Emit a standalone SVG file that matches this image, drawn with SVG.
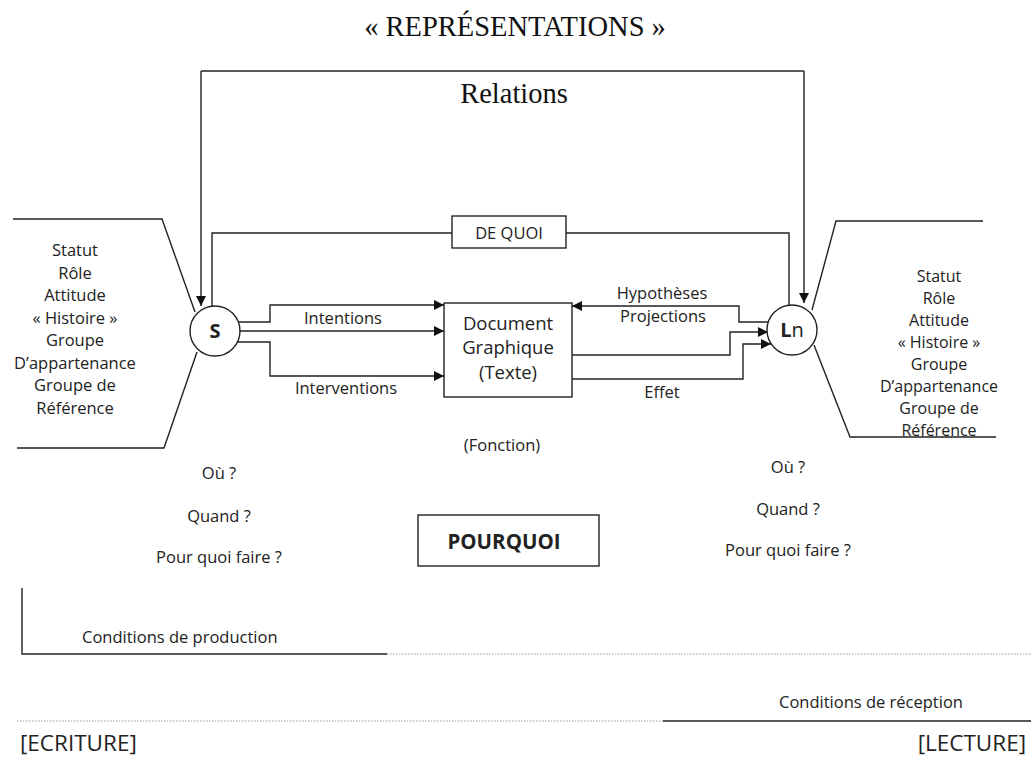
<svg xmlns="http://www.w3.org/2000/svg" width="1031" height="758" viewBox="0 0 1031 758">
<style>
  .ln{fill:none;stroke:#222;stroke-width:1.4}
  .arr{fill:none;stroke:#222;stroke-width:1.4;marker-end:url(#ah)}
  .dot{fill:none;stroke:#9a9a9a;stroke-width:1.2;stroke-dasharray:1.5 1.5}
  .box{fill:#fff;stroke:#222;stroke-width:1.4}
  .t{font-family:"Open Sans","DejaVu Sans",sans-serif;font-size:16.5px;fill:#222;text-anchor:middle}
  .ts{font-family:"Liberation Serif","Times New Roman",serif;font-size:28.5px;fill:#111;text-anchor:middle}
  .doc{font-size:18.5px}
  .big{font-size:22.5px;text-anchor:start}
  .rp{font-size:16px}
</style>
<defs>
  <marker id="ah" viewBox="0 0 10 10" refX="10" refY="5" markerWidth="10" markerHeight="10" markerUnits="userSpaceOnUse" orient="auto">
    <path d="M0,0 L10,5 L0,10 Z" fill="#111"/>
  </marker>
</defs>

<text class="ts" x="515" y="36">« REPRÉSENTATIONS »</text>
<text class="ts" x="514" y="103">Relations</text>

<g id="connectors">
  <path class="ln" d="M201,71 L804,71"/>
  <path class="arr" d="M201,71 L201,306"/>
  <path class="arr" d="M804,71 L804,303"/>
  <path class="ln" d="M212,306 L212,233 L452,233"/>
  <path class="ln" d="M566,233 L789,233 L789,305"/>
  <path class="arr" d="M238,322 L270,322 L270,305 L444,305"/>
  <path class="arr" d="M240,331 L444,331"/>
  <path class="arr" d="M238,342 L270,342 L270,376 L444,376"/>
  <path class="arr" d="M768,322 L739,322 L739,306 L572,306"/>
  <path class="arr" d="M572,355 L730,355 L730,332 L768,332"/>
  <path class="arr" d="M572,379 L743,379 L743,344 L771,344"/>
  <text class="t" x="343" y="324">Intentions</text>
  <text class="t" x="346" y="394">Interventions</text>
  <text class="t" x="662" y="299">Hypothèses</text>
  <text class="t" x="663" y="322">Projections</text>
  <text class="t" x="662" y="398">Effet</text>
</g>

<g id="left-profile">
  <polyline class="ln" points="13,219 162,219 195,312"/>
  <polyline class="ln" points="197,352 164,448 17,448"/>
  <text class="t" x="75" y="256">Statut</text>
  <text class="t" x="75" y="278.5">Rôle</text>
  <text class="t" x="75" y="301">Attitude</text>
  <text class="t" x="75" y="323.5">« Histoire »</text>
  <text class="t" x="75" y="346">Groupe</text>
  <text class="t" x="75" y="368.5">D’appartenance</text>
  <text class="t" x="75" y="391">Groupe de</text>
  <text class="t" x="75" y="413.5">Référence</text>
</g>

<g id="right-profile">
  <polyline class="ln" points="983,221 836,221 812,310"/>
  <polyline class="ln" points="814,345 850,437 996,437"/>
  <text class="t rp" x="939" y="282">Statut</text>
  <text class="t rp" x="939" y="304">Rôle</text>
  <text class="t rp" x="939" y="326">Attitude</text>
  <text class="t rp" x="939" y="348">« Histoire »</text>
  <text class="t rp" x="939" y="370">Groupe</text>
  <text class="t rp" x="939" y="392">D’appartenance</text>
  <text class="t rp" x="939" y="414">Groupe de</text>
  <text class="t rp" x="939" y="436">Référence</text>
</g>

<g id="node-S">
  <circle class="box" cx="215" cy="331" r="25"/>
  <text class="t" x="215" y="338" style="font-weight:bold;font-size:20px">S</text>
</g>

<g id="node-Ln">
  <circle class="box" cx="792" cy="330" r="25"/>
  <text class="t" x="792" y="337" style="font-size:20px"><tspan font-weight="bold">L</tspan>n</text>
</g>

<g id="node-dequoi">
  <rect class="box" x="452" y="216" width="114" height="32"/>
  <text class="t" x="509" y="239">DE QUOI</text>
</g>

<g id="node-document">
  <rect class="box" x="444" y="303" width="128" height="94"/>
  <text class="t doc" x="508" y="330">Document</text>
  <text class="t doc" x="508" y="354">Graphique</text>
  <text class="t doc" x="508" y="379">(Texte)</text>
</g>

<g id="node-fonction">
  <text class="t" x="502" y="451">(Fonction)</text>
</g>

<g id="node-pourquoi">
  <rect class="box" x="418" y="515" width="181" height="51"/>
  <text class="t" x="504" y="549" style="font-weight:bold;font-size:20.5px">POURQUOI</text>
</g>

<g id="left-questions">
  <text class="t" x="219" y="479">Où ?</text>
  <text class="t" x="219" y="522">Quand ?</text>
  <text class="t" x="219" y="563">Pour quoi faire ?</text>
</g>

<g id="right-questions">
  <text class="t" x="788" y="473">Où ?</text>
  <text class="t" x="788" y="515">Quand ?</text>
  <text class="t" x="788" y="556">Pour quoi faire ?</text>
</g>

<g id="conditions">
  <polyline class="ln" points="22,588 22,654 387,654"/>
  <line class="dot" x1="387" y1="654" x2="1031" y2="654"/>
  <line class="dot" x1="17" y1="721" x2="663" y2="721"/>
  <line class="ln" x1="663" y1="721" x2="1031" y2="721"/>
  <text class="t" x="82" y="643" style="text-anchor:start">Conditions de production</text>
  <text class="t" x="779" y="708" style="text-anchor:start">Conditions de réception</text>
  <text class="t big" x="20" y="751">[ECRITURE]</text>
  <text class="t big" x="1026" y="751" style="text-anchor:end">[LECTURE]</text>
</g>
</svg>
